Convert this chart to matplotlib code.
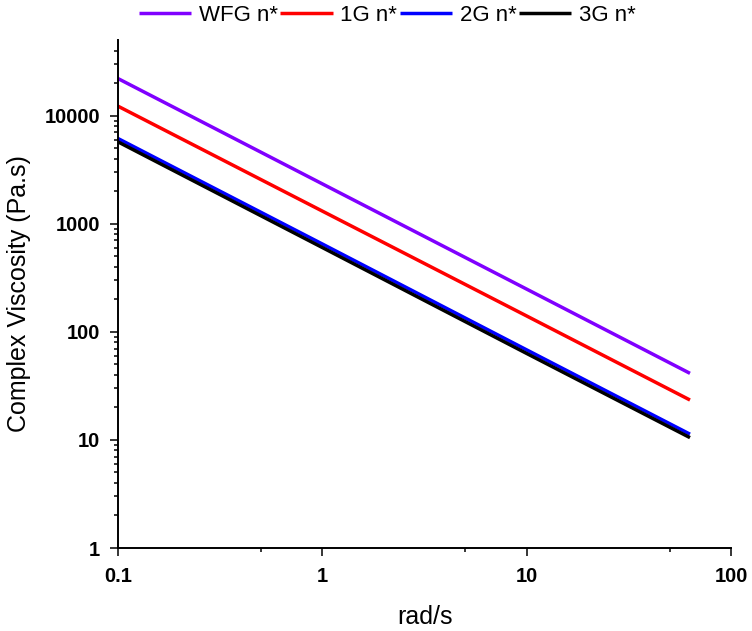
import matplotlib
matplotlib.use('Agg')
import matplotlib.pyplot as plt
from matplotlib.ticker import FixedLocator, FixedFormatter, NullFormatter

plt.rcParams['font.family'] = ['Liberation Sans', 'DejaVu Sans']

# Data
freq = [0.1, 1, 10, 62.8]
wfg = [22100, 2340, 248, 41.3]
g1 = [12270, 1310, 140, 23.4]
g2 = [6160, 650, 68, 11.3]
g3 = [5740, 603, 63, 10.5]

series_names = ['WFG n*', '1G n*', '2G n*', '3G n*']
series_colors = ['#8000FF', '#FF0000', '#0000FF', '#000000']

xticks = [0.1, 1, 10, 100]
xtick_labels = ['0.1', '1', '10', '100']
xminor = [0.5, 5, 50]
yticks = [1, 10, 100, 1000, 10000]
ytick_labels = ['1', '10', '100', '1000', '10000']

fig = plt.figure(figsize=(7.52, 6.31), dpi=100)
ax = fig.add_axes([0.1565, 0.1315, 0.816, 0.805])

for ys, name, col in zip([wfg, g1, g2, g3], series_names, series_colors):
    ax.plot(freq, ys, color=col, linewidth=2.5, label=name, solid_capstyle='butt')

ax.set_xscale('log')
ax.set_yscale('log')
ax.set_xlim(0.1, 100)
ax.set_ylim(1, 50000)

ax.xaxis.set_major_locator(FixedLocator(xticks))
ax.xaxis.set_major_formatter(FixedFormatter(xtick_labels))
ax.xaxis.set_minor_locator(FixedLocator(xminor))
ax.xaxis.set_minor_formatter(NullFormatter())

yminor = [m * 10 ** e for e in range(0, 5) for m in range(2, 10) if m * 10 ** e < 50000]
ax.yaxis.set_major_locator(FixedLocator(yticks))
ax.yaxis.set_major_formatter(FixedFormatter(ytick_labels))
ax.yaxis.set_minor_locator(FixedLocator(yminor))
ax.yaxis.set_minor_formatter(NullFormatter())

for s in ['top', 'right']:
    ax.spines[s].set_visible(False)
for s in ['left', 'bottom']:
    ax.spines[s].set_linewidth(1.4)

ax.tick_params(which='major', direction='out', length=5.5, width=1.1, labelsize=14.5, pad=7)
ax.tick_params(which='minor', direction='out', length=3, width=1.1)
ax.tick_params(axis='x', which='major', pad=8)
for lab in ax.get_xticklabels() + ax.get_yticklabels():
    lab.set_fontweight('bold')

ax.set_xlabel('rad/s', fontsize=18, labelpad=14)
ax.set_ylabel('Complex Viscosity (Pa.s)', fontsize=18, labelpad=10)

fig.legend(loc='center', bbox_to_anchor=(0.515, 0.976), ncol=4, frameon=False,
           fontsize=16, handlelength=2.35, handletextpad=0.35, columnspacing=0.1,
           borderpad=0, borderaxespad=0)

plt.savefig('out.png', dpi=100)
